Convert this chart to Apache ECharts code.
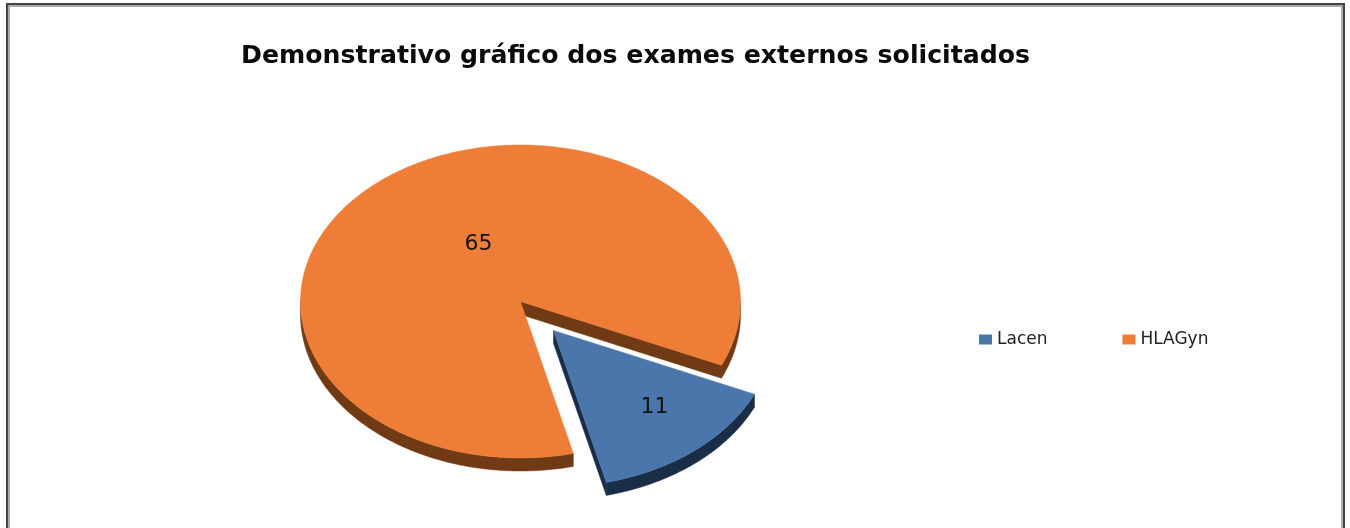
<!DOCTYPE html>
<html><head><meta charset="utf-8">
<style>html,body{margin:0;padding:0;background:#fff}#c{width:1350px;height:528px}</style>
<script src="https://cdn.jsdelivr.net/npm/echarts@6/dist/echarts.min.js"></script>
</head><body><div id="c"></div>
<script>
var titleText = 'Demonstrativo gráfico dos exames externos solicitados';
var categories = ['Lacen', 'HLAGyn'];
var values = [11, 65];
var colors = ['#4A76AC', '#ED7D37'];
var wallColors = ['#1A2D47', '#6F3A14'];

var geo = {cx: 520.5, cy: 301.5, rx: 220, ry: 156.5, depth: 13, startDeg: 24};
var explode = [[33, 29], [0, 0]];
var labelOffset = [[101, 77], [-42, -57]];

var total = values.reduce(function (a, b) { return a + b; }, 0);
function sliceAngles(i) {
  var a = geo.startDeg;
  for (var k = 0; k < i; k++) a += values[k] / total * 360;
  return [a, a + values[i] / total * 360];
}
function pt(deg, ox, oy, dz) {
  var r = deg * Math.PI / 180;
  return [geo.cx + ox + geo.rx * Math.cos(r), geo.cy + oy + geo.ry * Math.sin(r) + (dz || 0)];
}
function arc(a, b, ox, oy, dz) {
  var pts = [], n = Math.max(2, Math.ceil(Math.abs(b - a) * 2));
  for (var i = 0; i <= n; i++) pts.push(pt(a + (b - a) * i / n, ox, oy, dz));
  return pts;
}
function wallsFor(a0, a1, ox, oy) {
  var out = [];
  [[0, 180], [360, 540]].forEach(function (w) {
    var s = Math.max(a0, w[0]), e = Math.min(a1, w[1]);
    if (e > s) out.push(arc(s, e, ox, oy, 0).concat(arc(e, s, ox, oy, geo.depth)));
  });
  return out;
}
function render(i) {
  return function () {
    var an = sliceAngles(i), ox = explode[i][0], oy = explode[i][1];
    var tip = [geo.cx + ox, geo.cy + oy], tipD = [tip[0], tip[1] + geo.depth];
    var children = [];
    var polys = wallsFor(an[0], an[1], ox, oy);
    // the straight cut that faces the viewer is the clockwise end of each slice
    var c = pt(an[1], ox, oy, 0), cD = pt(an[1], ox, oy, geo.depth);
    polys.push([tip, c, cD, tipD]);
    polys.forEach(function (p) {
      children.push({type: 'polygon', shape: {points: p}, style: {fill: wallColors[i], stroke: wallColors[i], lineWidth: 0.5}});
    });
    children.push({type: 'polygon', shape: {points: [tip].concat(arc(an[0], an[1], ox, oy, 0))},
      style: {fill: colors[i], stroke: colors[i], lineWidth: 0.5}});
    children.push({type: 'text', style: {
      x: tip[0] + labelOffset[i][0], y: tip[1] + labelOffset[i][1],
      text: String(values[i]), fill: '#111', font: '22px "DejaVu Sans"', align: 'center', verticalAlign: 'middle'}});
    return {type: 'group', children: children};
  };
}

var chart = echarts.init(document.getElementById('c'), null, {renderer: 'canvas'});
chart.setOption({
  animation: false,
  backgroundColor: '#fff',
  title: {text: titleText, left: 236, top: 39,
    textStyle: {fontFamily: 'DejaVu Sans', fontWeight: 'bold', fontSize: 25.2, color: '#0a0a0a'}},
  legend: {left: 974, top: 326, icon: 'rect', itemWidth: 13, itemHeight: 10, itemGap: 75,
    data: categories, selectedMode: false,
    textStyle: {fontFamily: 'DejaVu Sans', fontSize: 17, color: '#222'}},
  graphic: [
    {type: 'rect', z: -10, shape: {x: 7, y: 4, width: 1337, height: 700}, style: {fill: 'none', stroke: '#444', lineWidth: 2}},
    {type: 'rect', z: -10, shape: {x: 9, y: 6, width: 1333, height: 700}, style: {fill: 'none', stroke: '#aaa', lineWidth: 2}}
  ],
  series: [1, 0].map(function (i) {
    return {type: 'custom', name: categories[i], coordinateSystem: 'none',
      itemStyle: {color: colors[i]}, data: [values[i]], renderItem: render(i)};
  })
});
</script></body></html>
